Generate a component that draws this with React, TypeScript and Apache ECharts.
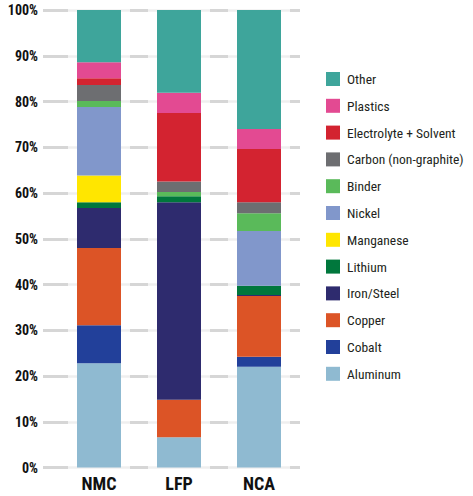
import React, { useEffect, useRef } from "react";
import * as echarts from "echarts";

const categories = ["NMC", "LFP", "NCA"];
const yTicks = [0, 10, 20, 30, 40, 50, 60, 70, 80, 90, 100];

// Stacked from bottom to top
const aluminum = [22.8, 6.6, 22.0];
const cobalt = [8.3, 0, 2.2];
const copper = [16.9, 8.2, 13.3];
const ironSteel = [8.7, 43.2, 0.2];
const lithium = [1.3, 1.3, 2.0];
const manganese = [5.8, 0, 0];
const nickel = [15.0, 0, 12.0];
const binder = [1.3, 0.9, 3.9];
const carbon = [3.5, 2.3, 2.4];
const electrolyte = [1.5, 15.0, 11.6];
const plastics = [3.5, 4.4, 4.4];
const other = [11.4, 18.1, 26.0];

const seriesList = [
  { name: "Aluminum", data: aluminum, color: "#8fbad1" },
  { name: "Cobalt", data: cobalt, color: "#22409a" },
  { name: "Copper", data: copper, color: "#dc5426" },
  { name: "Iron/Steel", data: ironSteel, color: "#2e2b6e" },
  { name: "Lithium", data: lithium, color: "#00773c" },
  { name: "Manganese", data: manganese, color: "#ffe600" },
  { name: "Nickel", data: nickel, color: "#8197cb" },
  { name: "Binder", data: binder, color: "#5aba5a" },
  { name: "Carbon (non-graphite)", data: carbon, color: "#6d6e71" },
  { name: "Electrolyte + Solvent", data: electrolyte, color: "#d32330" },
  { name: "Plastics", data: plastics, color: "#e34a92" },
  { name: "Other", data: other, color: "#3ea59b" },
];

const FONT = "'Roboto Condensed', sans-serif";

export default function App() {
  const ref = useRef<HTMLDivElement>(null);
  useEffect(() => {
    if (!ref.current) return;
    const chart = echarts.init(ref.current, undefined, { renderer: "svg" });
    const top = 10;
    const bottom = 28.5;
    chart.setOption({
      animation: false,
      backgroundColor: "#ffffff",
      grid: [
        { left: 43, right: 173, top, bottom },
        { left: 59, right: 174, top, bottom },
      ],
      legend: {
        orient: "vertical",
        left: 326,
        top: 72,
        padding: [0, 0, 0, 0],
        itemWidth: 14,
        itemHeight: 14,
        itemGap: 12.8,
        icon: "rect",
        data: seriesList.map((s) => s.name).reverse(),
        textStyle: {
          fontFamily: FONT,
          fontSize: 13.5,
          color: "#231f20",
          lineHeight: 14,
          padding: [0, 0, 0, 2],
        },
      },
      xAxis: [
        { type: "category", gridIndex: 0, show: false, data: categories },
        {
          type: "category",
          gridIndex: 1,
          data: categories,
          axisLine: { show: false },
          axisTick: { show: false },
          axisLabel: {
            margin: 7,
            fontFamily: FONT,
            fontWeight: "bold",
            fontSize: 18,
            color: "#111111",
          },
        },
      ],
      yAxis: [
        {
          type: "value",
          gridIndex: 0,
          min: 0,
          max: 100,
          interval: 10,
          axisLine: { show: false },
          axisTick: { show: false },
          axisLabel: {
            margin: 5,
            fontFamily: FONT,
            fontWeight: "bold",
            fontSize: 14,
            color: "#111111",
            formatter: (v: number) => (yTicks.includes(v) ? v + "%" : ""),
          },
          splitLine: { show: true, lineStyle: { color: "#efefef", width: 2.5 } },
        },
        {
          type: "value",
          gridIndex: 0,
          min: 0,
          max: 100,
          interval: 10,
          position: "left",
          axisLine: { show: false },
          axisTick: { show: false },
          axisLabel: { show: false },
          splitLine: {
            show: true,
            lineStyle: {
              color: "#d6d6d6",
              width: 3,
              type: [25, 62, 18, 62, 18, 62, 10, 100],
            },
          },
        },
        {
          type: "value",
          gridIndex: 1,
          min: 0,
          max: 100,
          interval: 10,
          show: false,
          splitLine: { show: false },
        },
      ],
      series: seriesList.map((s) => ({
        name: s.name,
        type: "bar",
        stack: "total",
        xAxisIndex: 1,
        yAxisIndex: 2,
        barWidth: 44,
        data: s.data,
        itemStyle: { color: s.color },
      })),
    });
    return () => chart.dispose();
  }, []);
  return (
    <div
      ref={ref}
      style={{ position: "fixed", left: 0, top: 0, width: 473, height: 496 }}
    />
  );
}
